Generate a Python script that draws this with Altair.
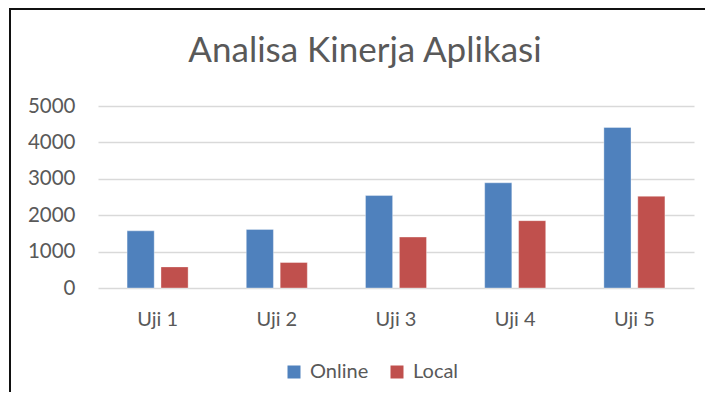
import altair as alt
import pandas as pd

categories = ["Uji 1", "Uji 2", "Uji 3", "Uji 4", "Uji 5"]
series = ["Online", "Local"]
online = [1570, 1610, 2540, 2890, 4410]
local = [580, 700, 1400, 1850, 2520]
y_ticks = [0, 1000, 2000, 3000, 4000, 5000]
colors = ["#4F81BD", "#C0504D"]

rows = []
for c, o, l in zip(categories, online, local):
    rows.append({"Kategori": c, "Seri": "Online", "Nilai": o})
    rows.append({"Kategori": c, "Seri": "Local", "Nilai": l})
df = pd.DataFrame(rows)

FONT = "Lato"
TXT = "#595959"
W, H = 596, 182
PAD = {"left": 90, "top": 98, "right": 11, "bottom": 104}

bars = alt.Chart(df).mark_bar(stroke="#ffffff", strokeWidth=1, strokeOpacity=0.35).encode(
    x=alt.X("Kategori:N", sort=categories,
            scale=alt.Scale(paddingInner=0.488, paddingOuter=0.244),
            axis=alt.Axis(title=None, labelAngle=0, domain=False, ticks=False,
                          labelFont=FONT, labelFontSize=20, labelColor=TXT,
                          labelPadding=21)),
    xOffset=alt.XOffset("Seri:N", sort=series,
                        scale=alt.Scale(paddingInner=0.2, paddingOuter=0)),
    y=alt.Y("Nilai:Q", scale=alt.Scale(domain=[0, 5000], nice=False),
            axis=alt.Axis(title=None, values=y_ticks, format="d", domain=False, ticks=False,
                          labelFont=FONT, labelFontSize=20.5, labelColor=TXT,
                          labelPadding=23, gridColor="#D9D9D9", gridWidth=1.5)),
    color=alt.Color("Seri:N", sort=series,
                    scale=alt.Scale(domain=series, range=colors),
                    legend=alt.Legend(title=None, orient="none", legendX=186, legendY=256,
                                      direction="horizontal", symbolType="square",
                                      symbolSize=169, symbolStrokeWidth=0,
                                      labelFont=FONT, labelFontSize=20, labelColor=TXT,
                                      columnPadding=18, labelOffset=6, padding=0)),
)

frame_df = pd.DataFrame({"k": [0]})
left_edge = alt.Chart(frame_df).mark_rule(color="#111111", strokeWidth=2, clip=False).encode(
    x=alt.value(-88), y=alt.value(-98), y2=alt.value(H + PAD["bottom"]),
)
top_edge = alt.Chart(frame_df).mark_rule(color="#111111", strokeWidth=2, clip=False).encode(
    y=alt.value(-97), x=alt.value(-89), x2=alt.value(W + PAD["right"]),
)

chart = alt.layer(left_edge, top_edge, bars).properties(
    width=W, height=H,
    title=alt.TitleParams("Analisa Kinerja Aplikasi", font=FONT, fontSize=35,
                          fontWeight="normal", color=TXT, anchor="middle",
                          baseline="alphabetic", dx=-31, offset=-90),
    autosize=alt.AutoSizeParams(type="none"),
    padding=PAD,
).configure_view(stroke=None)

chart.save("out.html", embed_options={"renderer": "svg", "actions": False})
